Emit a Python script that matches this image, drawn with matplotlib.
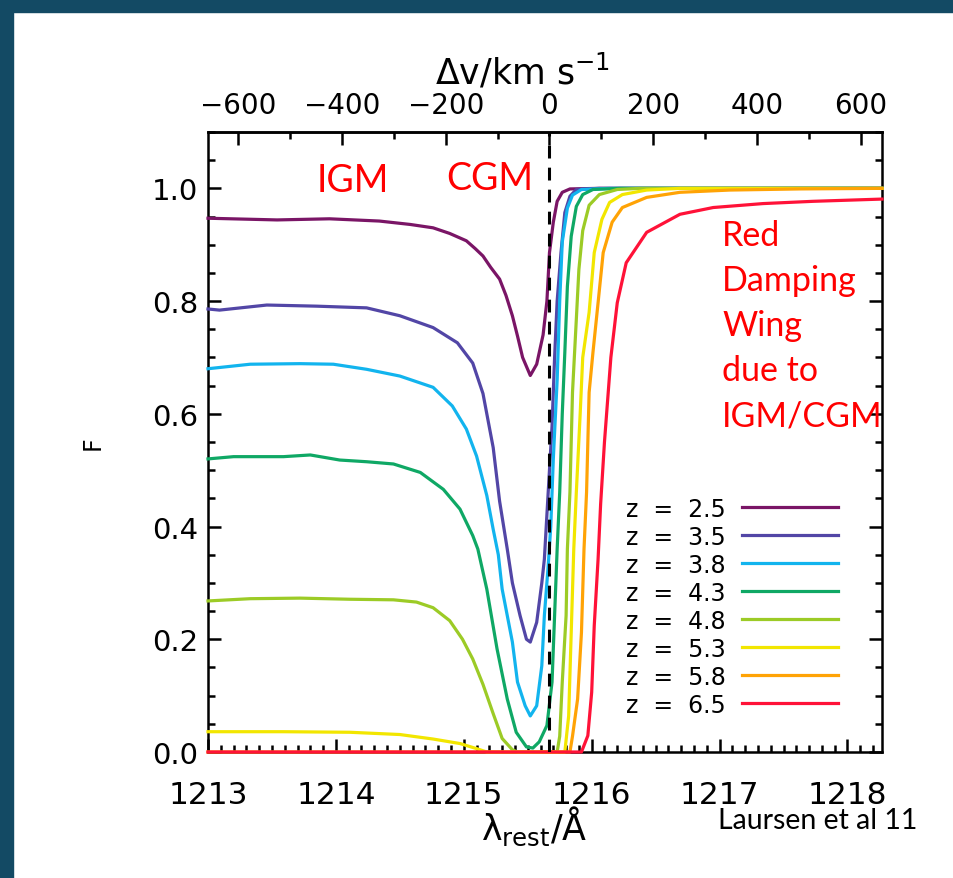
import numpy as np
import matplotlib
matplotlib.use("Agg")
import matplotlib.pyplot as plt
from matplotlib.patches import Rectangle
from matplotlib.ticker import MultipleLocator, FixedLocator, FormatStrFormatter

plt.rcParams['font.family'] = ['DejaVu Sans']

# rest wavelength of Lya and speed of light
lam0 = 1215.67
c_kms = 2.998e5

# transmission curves F(lambda) for each redshift
z_labels = ['2.5', '3.5', '3.8', '4.3', '4.8', '5.3', '5.8', '6.5']
colors = ['#7a1566', '#5246a6', '#12b4ee', '#0fa865', '#9ccb26', '#f2e600', '#ffa305', '#ff1238']

v_ticks = [-600, -400, -200, 0, 200, 400, 600]
v_minor = [-700, -500, -300, -100, 100, 300, 500]

lam_z25 = [1213.00, 1213.54, 1213.95, 1214.34, 1214.58, 1214.76, 1214.89, 1215.02, 1215.09, 1215.15,
           1215.21, 1215.28, 1215.33, 1215.38, 1215.42, 1215.46, 1215.52, 1215.57, 1215.62, 1215.65,
           1215.67, 1215.70, 1215.73, 1215.77, 1215.83, 1216.06, 1218.27]
f_z25 = [0.947, 0.944, 0.946, 0.942, 0.936, 0.930, 0.920, 0.907, 0.893, 0.880,
         0.860, 0.839, 0.810, 0.774, 0.738, 0.700, 0.668, 0.688, 0.740, 0.800,
         0.886, 0.940, 0.977, 0.993, 0.999, 1.000, 1.000]

lam_z35 = [1213.00, 1213.09, 1213.46, 1213.85, 1214.24, 1214.50, 1214.76, 1214.95, 1215.07, 1215.15,
           1215.23, 1215.28, 1215.34, 1215.38, 1215.44, 1215.49, 1215.52, 1215.57, 1215.61, 1215.63,
           1215.66, 1215.69, 1215.71, 1215.73, 1215.76, 1215.79, 1215.83, 1215.88, 1216.06, 1218.27]
f_z35 = [0.786, 0.784, 0.793, 0.791, 0.788, 0.774, 0.753, 0.726, 0.690, 0.636,
         0.540, 0.445, 0.360, 0.300, 0.242, 0.200, 0.195, 0.230, 0.300, 0.342,
         0.461, 0.578, 0.700, 0.800, 0.886, 0.957, 0.986, 0.998, 1.000, 1.000]

lam_z38 = [1213.00, 1213.33, 1213.72, 1213.98, 1214.24, 1214.50, 1214.76, 1214.91, 1215.02, 1215.10,
           1215.18, 1215.23, 1215.27, 1215.30, 1215.38, 1215.42, 1215.48, 1215.52, 1215.57, 1215.61,
           1215.63, 1215.66, 1215.68, 1215.70, 1215.73, 1215.75, 1215.77, 1215.81, 1215.85, 1215.92,
           1216.14, 1218.27]
f_z38 = [0.680, 0.688, 0.689, 0.688, 0.679, 0.667, 0.647, 0.614, 0.573, 0.525,
         0.455, 0.395, 0.350, 0.289, 0.195, 0.124, 0.082, 0.064, 0.082, 0.153,
         0.242, 0.330, 0.400, 0.520, 0.660, 0.800, 0.905, 0.965, 0.988, 0.998,
         1.000, 1.000]

lam_z43 = [1213.00, 1213.20, 1213.59, 1213.80, 1214.03, 1214.24, 1214.45, 1214.66, 1214.84, 1214.97,
           1215.07, 1215.11, 1215.18, 1215.26, 1215.34, 1215.41, 1215.49, 1215.54, 1215.59, 1215.65,
           1215.69, 1215.71, 1215.73, 1215.75, 1215.77, 1215.79, 1215.81, 1215.84, 1215.88, 1215.93,
           1216.01, 1216.22, 1218.27]
f_z43 = [0.520, 0.524, 0.524, 0.527, 0.518, 0.515, 0.511, 0.496, 0.466, 0.431,
         0.384, 0.360, 0.289, 0.183, 0.094, 0.035, 0.009, 0.007, 0.018, 0.047,
         0.124, 0.242, 0.360, 0.461, 0.600, 0.709, 0.826, 0.915, 0.968, 0.989,
         0.998, 1.000, 1.000]

lam_z48 = [1213.00, 1213.33, 1213.72, 1214.11, 1214.45, 1214.63, 1214.76, 1214.89, 1214.99, 1215.07,
           1215.15, 1215.23, 1215.30, 1215.38, 1215.42, 1215.73, 1215.75, 1215.77, 1215.80, 1215.81,
           1215.83, 1215.85, 1215.88, 1215.90, 1215.93, 1215.98, 1216.06, 1216.20, 1216.38, 1218.27]
f_z48 = [0.268, 0.272, 0.273, 0.271, 0.270, 0.266, 0.256, 0.233, 0.200, 0.165,
         0.120, 0.068, 0.024, 0.004, 0.000, 0.000, 0.028, 0.124, 0.242, 0.360,
         0.461, 0.638, 0.768, 0.856, 0.925, 0.970, 0.989, 0.998, 1.000, 1.000]

lam_z53 = [1213.00, 1213.59, 1214.11, 1214.50, 1214.76, 1214.97, 1215.10, 1215.18, 1215.79, 1215.82,
           1215.84, 1215.86, 1215.88, 1215.91, 1215.93, 1215.98, 1216.02, 1216.08, 1216.14, 1216.24,
           1216.43, 1216.69, 1218.27]
f_z53 = [0.036, 0.036, 0.035, 0.031, 0.023, 0.015, 0.006, 0.000, 0.000, 0.064,
         0.212, 0.360, 0.461, 0.600, 0.700, 0.780, 0.886, 0.945, 0.975, 0.989,
         0.997, 1.000, 1.000]

lam_z58 = [1213.00, 1215.83, 1215.85, 1215.89, 1215.92, 1215.94, 1215.96, 1215.98, 1216.01, 1216.05,
           1216.09, 1216.16, 1216.24, 1216.43, 1216.69, 1217.08, 1217.63, 1218.27]
f_z58 = [0.000, 0.000, 0.028, 0.094, 0.212, 0.360, 0.461, 0.638, 0.709, 0.797,
         0.886, 0.940, 0.966, 0.984, 0.993, 0.997, 0.999, 1.000]

lam_z65 = [1213.00, 1215.92, 1215.97, 1216.00, 1216.02, 1216.05, 1216.07, 1216.10, 1216.15, 1216.20,
           1216.27, 1216.43, 1216.69, 1216.95, 1217.34, 1217.73, 1218.27]
f_z65 = [0.000, 0.000, 0.029, 0.106, 0.224, 0.342, 0.440, 0.550, 0.700, 0.797,
         0.868, 0.922, 0.954, 0.966, 0.973, 0.977, 0.981]

lams = [lam_z25, lam_z35, lam_z38, lam_z43, lam_z48, lam_z53, lam_z58, lam_z65]
fluxes = [f_z25, f_z35, f_z38, f_z43, f_z48, f_z53, f_z58, f_z65]


def lam2v(lam):
    return (lam - lam0) / lam0 * c_kms


def v2lam(v):
    return lam0 * (1 + v / c_kms)


fig = plt.figure(figsize=(9.54, 8.79), dpi=100)
fig.patch.set_facecolor('white')
# dark slide border on the left and top
fig.patches.append(Rectangle((0, 0), 13 / 954, 1, transform=fig.transFigure, color='#134a64', zorder=0))
fig.patches.append(Rectangle((0, 1 - 13 / 879), 1, 13 / 879, transform=fig.transFigure, color='#134a64', zorder=0))

ax = fig.add_axes([208 / 954, 1 - 753 / 879, 674 / 954, 620 / 879])

for lam, f, zl, col in zip(lams, fluxes, z_labels, colors):
    ax.plot(lam, f, color=col, lw=2.3, label='z  =  ' + zl, zorder=3, clip_on=False,
            solid_joinstyle='round')

ax.axvline(lam0, color='black', lw=2.2, ls=(0, (4.2, 3.0)), zorder=4)

ax.set_xlim(1213, 1218.27)
ax.set_ylim(0, 1.1)
ax.xaxis.set_major_locator(MultipleLocator(1))
ax.xaxis.set_minor_locator(MultipleLocator(0.1))
ax.yaxis.set_major_locator(MultipleLocator(0.2))
ax.yaxis.set_minor_locator(MultipleLocator(0.05))
ax.yaxis.set_major_formatter(FormatStrFormatter('%.1f'))

ax.tick_params(which='both', direction='in', top=False, right=True, width=1.8, colors='black')
ax.tick_params(which='major', length=9.5)
ax.tick_params(which='minor', length=5)
ax.tick_params(axis='x', labelsize=22.5, pad=20)
ax.tick_params(axis='y', labelsize=21, pad=7)
for sp in ax.spines.values():
    sp.set_linewidth(1.8)

secax = ax.secondary_xaxis('top', functions=(lam2v, v2lam))
secax.xaxis.set_major_locator(FixedLocator(v_ticks))
secax.xaxis.set_minor_locator(FixedLocator(v_minor))
secax.tick_params(which='both', direction='in', width=1.8, labelsize=20, pad=9)
secax.tick_params(which='major', length=9.5)
secax.tick_params(which='minor', length=5)
secax.spines['top'].set_linewidth(1.8)
secax.set_xlabel(r'$\Delta$v/km s$^{\mathregular{-1}}$', fontsize=25, labelpad=6)
secax.xaxis.label.set_x(0.466)

ax.set_xlabel(r'λ$_{\mathregular{rest}}$/Å', fontsize=25, labelpad=-4)
ax.xaxis.label.set_x(0.484)
ax.set_ylabel('F', fontsize=17, labelpad=34)

ax.legend(loc='upper left', bbox_to_anchor=(0.62, 0.412), frameon=False, markerfirst=False,
          handlelength=4.05, handletextpad=0.7, labelspacing=0.17, fontsize=17,
          borderaxespad=0, borderpad=0)

# annotations in red
ax.text(1214.13, 1.015, 'IGM', color='red', fontsize=27, family='Lato', ha='center', va='center')
ax.text(1215.20, 1.019, 'CGM', color='red', fontsize=27, family='Lato', ha='center', va='center')
ax.text(1217.02, 0.945, 'Red\nDamping\nWing\ndue to\nIGM/CGM', color='red', fontsize=24.5,
        family='Lato', ha='left', va='top', linespacing=1.5)

fig.text(718 / 954, 1 - 821 / 879, 'Laursen et al 11', color='black', fontsize=20.5, family='Lato',
         ha='left', va='center')

fig.savefig('out.png', dpi=100)
